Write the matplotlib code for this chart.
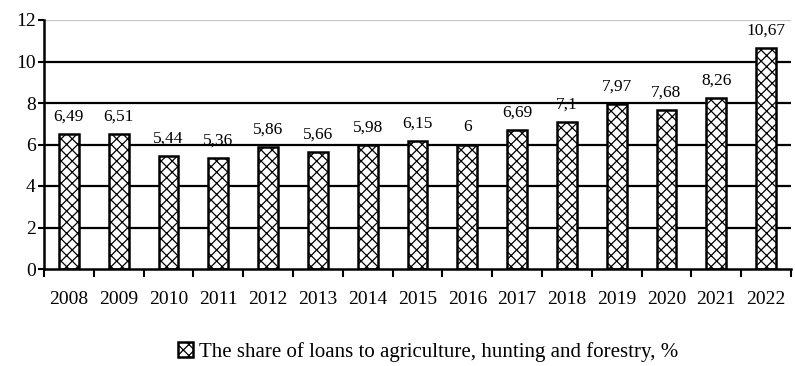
import numpy as np
import matplotlib.pyplot as plt
import matplotlib as mpl

mpl.rcParams['hatch.linewidth'] = 0.9
plt.rcParams['font.family'] = ['Liberation Serif', 'DejaVu Serif']

years = ['2008', '2009', '2010', '2011', '2012', '2013', '2014', '2015',
         '2016', '2017', '2018', '2019', '2020', '2021', '2022']
share = [6.49, 6.51, 5.44, 5.36, 5.86, 5.66, 5.98, 6.15,
         6.0, 6.69, 7.1, 7.97, 7.68, 8.26, 10.67]
labels = ['6,49', '6,51', '5,44', '5,36', '5,86', '5,66', '5,98', '6,15',
          '6', '6,69', '7,1', '7,97', '7,68', '8,26', '10,67']

fig = plt.figure(figsize=(7.95, 3.66), dpi=100)
ax = fig.add_axes([44/795, 1-269/366, 747/795, 249/366])

x = np.arange(len(years))
#gridlines
for y in [2, 4, 6, 8, 10]:
    ax.axhline(y, color='black', lw=1.6, zorder=1)
ax.axhline(12, color='#c8c8c8', lw=1, zorder=1)

bars = ax.bar(x, share, width=0.4, color='white', edgecolor='black',
              hatch='xxx', linewidth=1.8, zorder=2,
              label='The share of loans to agriculture, hunting and forestry, %')

#value labels above bars
for xi, v, t in zip(x, share, labels):
    ax.text(xi, v + 0.45, t, ha='center', va='bottom', fontsize=12.5, zorder=3)

ax.set_xlim(-0.5, len(years) - 0.5)
ax.set_ylim(0, 12)
ax.set_yticks(range(0, 13, 2))
ax.set_xticks(x)
ax.set_xticklabels(years, fontsize=14)
ax.set_xticks(np.arange(-0.5, len(years)), minor=True)
ax.tick_params(axis='x', which='major', length=0, pad=16)
ax.tick_params(axis='x', which='minor', length=6, width=1.5, direction='out')
ax.tick_params(axis='y', length=4, width=1.5, labelsize=14, pad=2)

for s in ['top', 'right']:
    ax.spines[s].set_visible(False)
ax.spines['left'].set_linewidth(1.8)
ax.spines['bottom'].set_linewidth(1.8)

fig.legend(handles=[bars], loc='center', bbox_to_anchor=(428/795, 1 - 352/366),
           frameon=False, fontsize=15, handlelength=0.7, handleheight=0.7,
           handletextpad=0.3, borderpad=0)

fig.savefig('out.png', dpi=100)
